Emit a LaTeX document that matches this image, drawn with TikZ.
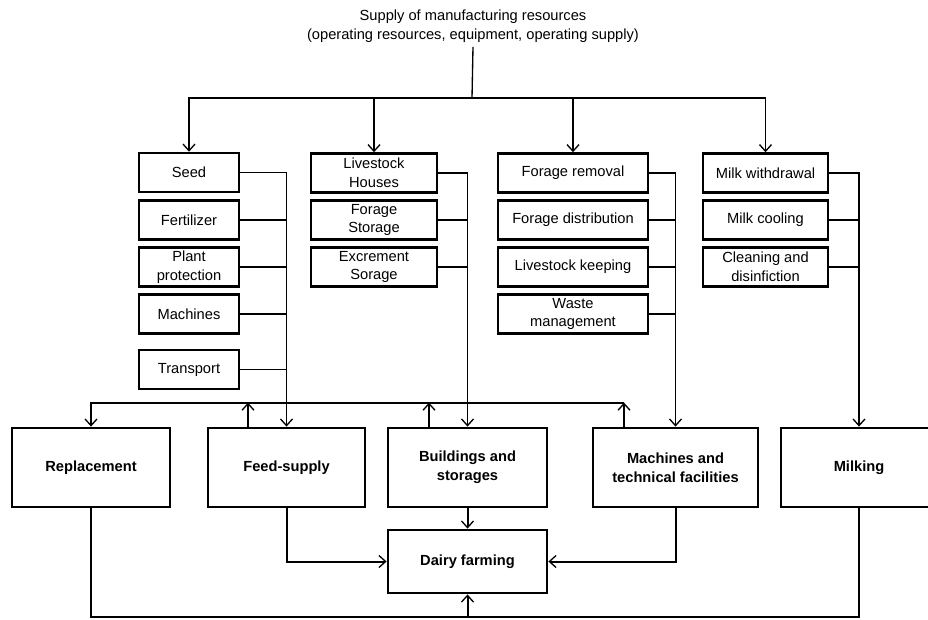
\documentclass[tikz,border=0pt]{standalone}
\usepackage{fontspec}
\setmainfont{Liberation Sans}
\usetikzlibrary{arrows.meta,calc}

\tikzset{
  px/.style={x=0.75pt,y=-0.75pt},
  small/.style={draw,line width=1.9pt,align=center,inner sep=0pt,
    font=\fontsize{11}{14}\selectfont,minimum height=29.25pt},
  big/.style={draw,line width=2.1pt,align=center,inner sep=0pt,
    font=\fontsize{11}{14}\selectfont\bfseries,minimum height=59.25pt},
  thin/.style={line width=1pt},
  thick/.style={line width=1.5pt},
  arr/.style={-{Straight Barb[length=5pt,width=9pt,line width=1pt]}},
}

\begin{document}
\begin{tikzpicture}[px]
\path[fill=white,use as bounding box] (0,0) rectangle (928,619);
\begin{scope}
\clip (0,0) rectangle (928,619);

% heading
\node[font=\fontsize{11}{14}\selectfont,align=center] (title) at (473,26)
  {Supply of manufacturing resources\\(operating resources, equipment, operating supply)};
\coordinate (split) at (472,98);

% plant production
\node[small,minimum width=75pt] (seed) at (189,172.5) {Seed};
\node[small,minimum width=75pt] (fert) at (189,220) {Fertilizer};
\node[small,minimum width=75pt] (plant) at (189,267) {Plant\\protection};
\node[small,minimum width=75pt] (mach1) at (189,314) {Machines};
\node[small,minimum width=75pt] (trans) at (189,369.5) {Transport};

% buildings
\node[small,minimum width=94.5pt] (house) at (374,173) {Livestock\\Houses};
\node[small,minimum width=94.5pt] (fstor) at (374,220) {Forage\\Storage};
\node[small,minimum width=94.5pt] (exc) at (374,267) {Excrement\\Sorage};

% technical processes
\node[small,minimum width=112.5pt] (frem) at (573,173) {Forage removal};
\node[small,minimum width=112.5pt] (fdist) at (573,220) {Forage distribution};
\node[small,minimum width=112.5pt] (lkeep) at (573,267) {Livestock keeping};
\node[small,minimum width=112.5pt] (waste) at (573,314) {Waste\\management};

% milk
\node[small,minimum width=93.75pt] (mwith) at (765.5,173) {Milk withdrawal};
\node[small,minimum width=93.75pt] (mcool) at (765.5,220) {Milk cooling};
\node[small,minimum width=93.75pt] (clean) at (765.5,267) {Cleaning and\\disinfiction};

% main areas
\node[big,minimum width=118.5pt] (repl) at (91,467.5) {Replacement};
\node[big,minimum width=117.75pt] (feed) at (286.5,467.5) {Feed-supply};
\node[big,minimum width=119.25pt] (build) at (467.5,467.5) {Buildings and\\storages};
\node[big,minimum width=123.75pt] (mach) at (675.5,467.5) {Machines and\\technical facilities};
\node[big,minimum width=117pt] (milk) at (859,467.5) {Milking};
\node[big,minimum width=119.25pt,minimum height=47.25pt] (dairy) at (467.5,561.5) {Dairy farming};

% supply distribution
\draw[thin] (title.south) -- (split);
\draw[thin,arr] (split) -| (seed.north);
\draw[thin,arr] (split) -| (house.north);
\draw[thin,arr] (split) -| (frem.north);
\draw[thin,arr] (split) -| (mwith.north);

% collecting lines
\draw[thin,arr] (seed.east) -| (feed.north);
\foreach \n in {fert,plant,mach1,trans}
  \draw[thin] (\n.east) -- (\n.east -| feed.north);
\draw[thin,arr] (house.east) -| (build.north);
\foreach \n in {fstor,exc}
  \draw[thin] (\n.east) -- (\n.east -| build.north);
\draw[thin,arr] (frem.east) -| (mach.north);
\foreach \n in {fdist,lkeep,waste}
  \draw[thin] (\n.east) -- (\n.east -| mach.north);
\draw[thin,arr] (mwith.east) -| (milk.north);
\foreach \n in {mcool,clean}
  \draw[thin] (\n.east) -- (\n.east -| milk.north);

% exchange between the areas
\coordinate (feedup) at ($(feed.north)+(-38.5,0)$);
\coordinate (buildup) at ($(build.north)+(-38.5,0)$);
\coordinate (machup) at ($(mach.north)+(-51.5,0)$);
\draw[thick,arr] (feedup) -- ++(0,-24);
\draw[thick,arr] (buildup) -- ++(0,-24);
\draw[thick,arr] (machup) -- ++(0,-24);
\draw[thick,arr] ($(machup)+(0,-24)$) -| (repl.north);

% into dairy farming
\coordinate (loop) at (467.5,617);
\draw[thick,arr] (build.south) -- (dairy.north);
\draw[thick,arr] (feed.south) |- (dairy.west);
\draw[thick,arr] (mach.south) |- (dairy.east);
\draw[thick] (repl.south) |- (loop) -| (milk.south);
\draw[thick,arr] (loop) -- (dairy.south);
\end{scope}
\end{tikzpicture}
\end{document}
